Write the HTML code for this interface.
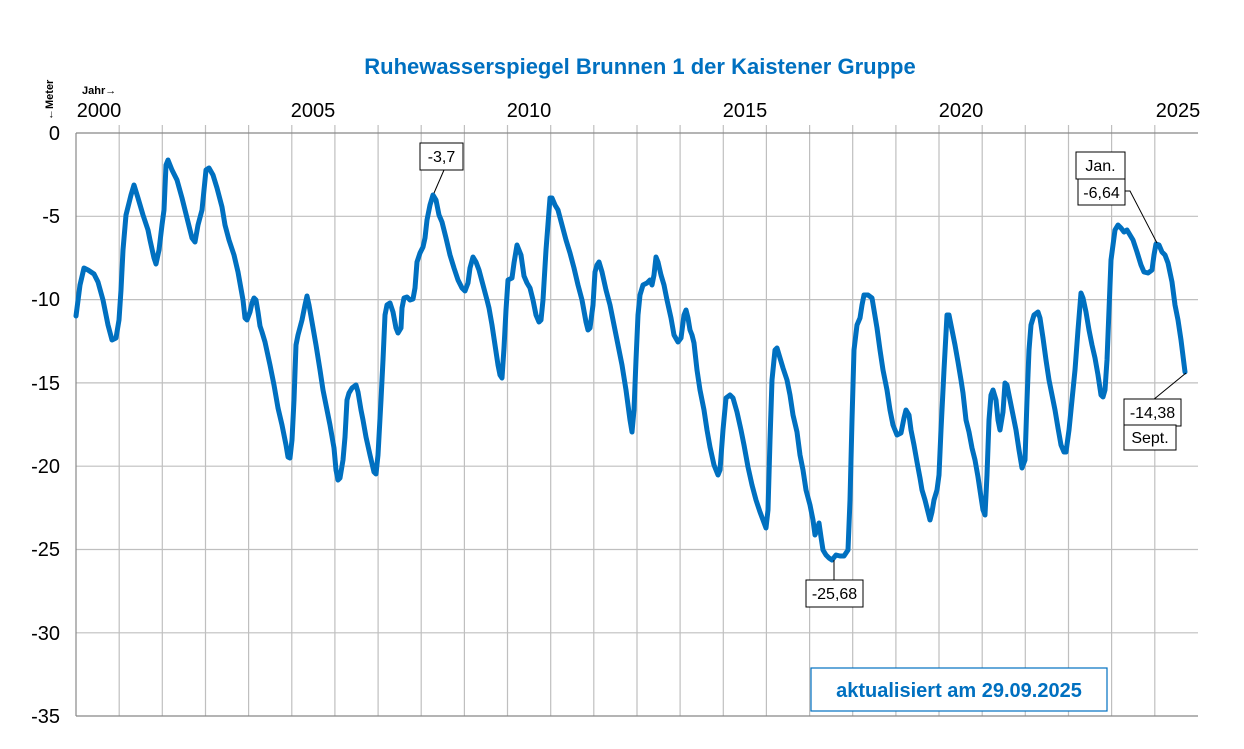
<!DOCTYPE html>
<html><head><meta charset="utf-8"><style>
body{margin:0;background:#fff;}
svg{display:block;font-family:"Liberation Sans",sans-serif;}
</style></head><body>
<svg width="1244" height="749" viewBox="0 0 1244 749">
<rect width="1244" height="749" fill="#fff"/>
<text x="640" y="74" text-anchor="middle" font-size="22" font-weight="bold" fill="#0070C0">Ruhewasserspiegel Brunnen 1 der Kaistener Gruppe</text>
<g stroke="#bfbfbf" stroke-width="1.2">
<line x1="76" y1="216.3" x2="1198" y2="216.3"/><line x1="76" y1="299.6" x2="1198" y2="299.6"/><line x1="76" y1="382.9" x2="1198" y2="382.9"/><line x1="76" y1="466.2" x2="1198" y2="466.2"/><line x1="76" y1="549.5" x2="1198" y2="549.5"/><line x1="76" y1="632.8" x2="1198" y2="632.8"/>
<line x1="119.2" y1="125" x2="119.2" y2="716"/><line x1="162.3" y1="125" x2="162.3" y2="716"/><line x1="205.5" y1="125" x2="205.5" y2="716"/><line x1="248.6" y1="125" x2="248.6" y2="716"/><line x1="291.8" y1="125" x2="291.8" y2="716"/><line x1="334.9" y1="125" x2="334.9" y2="716"/><line x1="378.1" y1="125" x2="378.1" y2="716"/><line x1="421.2" y1="125" x2="421.2" y2="716"/><line x1="464.4" y1="125" x2="464.4" y2="716"/><line x1="507.5" y1="125" x2="507.5" y2="716"/><line x1="550.7" y1="125" x2="550.7" y2="716"/><line x1="593.8" y1="125" x2="593.8" y2="716"/><line x1="637" y1="125" x2="637" y2="716"/><line x1="680.1" y1="125" x2="680.1" y2="716"/><line x1="723.3" y1="125" x2="723.3" y2="716"/><line x1="766.4" y1="125" x2="766.4" y2="716"/><line x1="809.6" y1="125" x2="809.6" y2="716"/><line x1="852.7" y1="125" x2="852.7" y2="716"/><line x1="895.9" y1="125" x2="895.9" y2="716"/><line x1="939" y1="125" x2="939" y2="716"/><line x1="982.2" y1="125" x2="982.2" y2="716"/><line x1="1025.3" y1="125" x2="1025.3" y2="716"/><line x1="1068.5" y1="125" x2="1068.5" y2="716"/><line x1="1111.6" y1="125" x2="1111.6" y2="716"/><line x1="1154.8" y1="125" x2="1154.8" y2="716"/>
</g>
<g stroke="#888" stroke-width="1.2">
<line x1="76" y1="133" x2="1198" y2="133"/><line x1="76" y1="133" x2="76" y2="716"/><line x1="76" y1="716" x2="1198" y2="716"/>
</g>
<g stroke="#888" stroke-width="1.2" id="ticks"></g>
<g font-size="20" fill="#000" text-anchor="end">
<text x="60" y="140">0</text><text x="60" y="223">-5</text><text x="60" y="306">-10</text><text x="60" y="390">-15</text><text x="60" y="473">-20</text><text x="60" y="556">-25</text><text x="60" y="640">-30</text><text x="60" y="723">-35</text>
</g>
<g font-size="20" fill="#000" text-anchor="middle">
<text x="99" y="117">2000</text><text x="313" y="117">2005</text><text x="529" y="117">2010</text><text x="745" y="117">2015</text><text x="961" y="117">2020</text><text x="1178" y="117">2025</text>
</g>
<text x="82" y="94" font-size="11" font-weight="bold">Jahr→</text>
<text transform="translate(53,120) rotate(-90)" font-size="11" font-weight="bold">←Meter</text>
<polyline fill="none" stroke="#0070C0" stroke-width="5" stroke-linejoin="round" stroke-linecap="round" points="76,316 80,285 84,268 88,270 94,274 98,282 103,300 108,325 112,340 116,338 119,320 121,290 123,250 126,215 131,195 134,185 138,198 143,215 148,230 150,240 154,258 156,264 159,250 162,225 164,210 166,165 168,160 172,170 177,180 182,198 188,222 192,238 195,242 198,225 202,210 204,190 206,170 209,168 213,175 217,188 222,207 225,225 229,240 234,255 238,272 243,300 245,318 247,320 250,312 252,303 254,298 256,300 258,312 260,326 262,332 265,342 270,365 274,385 278,408 282,425 286,445 288,457 290,458 292,440 294,400 296,345 298,335 302,320 305,305 307,296 309,305 312,322 316,345 320,370 323,390 327,410 330,425 334,448 336,470 338,480 340,478 343,460 345,437 347,400 349,393 352,388 356,385 358,392 361,410 363,420 366,437 370,455 374,472 376,474 378,455 381,400 383,360 385,315 387,305 390,303 393,312 396,328 398,333 401,328 402,308 404,298 407,297 410,300 413,299 415,288 417,262 420,253 423,247 425,238 427,220 430,205 433,195 436,200 439,215 442,222 446,238 450,255 454,268 458,280 462,288 465,291 468,283 470,268 473,257 476,262 479,270 483,285 487,300 489,308 492,325 495,345 498,365 500,375 502,378 504,348 506,310 508,280 512,278 514,263 517,245 519,250 521,255 524,276 527,283 530,288 533,300 536,315 539,322 541,320 543,300 546,250 550,198 552,198 555,205 558,210 562,225 566,240 570,253 574,268 578,285 582,300 586,322 588,330 590,328 593,305 595,272 597,265 599,262 602,272 606,290 610,305 614,325 618,345 622,365 626,390 630,420 632,432 634,410 636,360 638,315 640,295 643,285 647,283 650,280 652,285 654,275 656,257 658,262 661,275 664,285 667,300 671,318 674,335 678,342 681,338 684,315 686,310 688,318 690,330 692,335 694,343 697,370 700,390 704,410 707,430 710,447 714,465 718,475 720,470 723,430 726,398 730,395 733,398 737,412 741,430 744,445 748,467 752,485 756,500 760,512 763,520 766,528 768,510 770,440 772,380 775,350 777,348 780,358 783,368 787,380 790,395 793,415 797,432 800,455 803,470 806,490 810,505 813,520 815,535 817,530 819,523 821,537 823,550 826,555 829,558 832,560 836,555 840,556 844,556 848,550 850,500 852,420 854,350 857,325 860,318 862,305 864,295 868,295 872,298 874,310 877,328 880,350 883,370 887,390 890,410 893,425 897,435 901,433 904,418 906,410 909,415 911,430 914,445 917,462 920,478 922,490 925,500 928,512 930,520 932,512 934,500 937,490 939,475 941,430 944,370 947,315 949,315 952,330 955,345 958,362 961,380 963,393 966,420 969,432 972,448 975,460 978,477 981,497 983,510 985,515 987,475 989,420 991,395 993,390 996,400 998,420 1000,430 1003,412 1005,383 1007,385 1010,400 1013,415 1016,430 1019,450 1022,468 1025,460 1027,400 1029,350 1031,325 1034,315 1038,312 1040,318 1043,338 1046,360 1049,380 1052,395 1055,410 1058,428 1061,445 1064,452 1066,452 1069,430 1072,400 1075,370 1078,330 1081,293 1083,298 1086,312 1089,330 1092,345 1095,358 1098,375 1101,395 1103,397 1105,390 1107,360 1109,310 1111,260 1115,230 1118,225 1121,228 1124,232 1127,230 1130,235 1133,240 1137,252 1141,265 1144,272 1148,273 1152,270 1154,255 1156,244 1159,245 1162,252 1165,255 1168,263 1172,282 1175,305 1178,320 1181,340 1185,372"/>
<g stroke="#000" stroke-width="1" fill="none">
<line x1="444" y1="170" x2="434" y2="193"/>
<polyline points="1125,191 1130,191 1157,243"/>
<line x1="1153" y1="400" x2="1186" y2="373"/>
<line x1="834" y1="560" x2="834" y2="580"/>
</g>
<g fill="#fff" stroke="#000" stroke-width="1">
<rect x="420" y="143" width="43" height="27"/>
<rect x="1076" y="152" width="49" height="27"/>
<rect x="1078" y="179" width="47" height="26"/>
<rect x="1124" y="399" width="57" height="27"/>
<rect x="1124" y="425" width="52" height="25"/>
<rect x="806" y="580" width="57" height="27"/>
</g>
<g font-size="16" fill="#000" text-anchor="middle">
<text x="441.5" y="162">-3,7</text>
<text x="1100.5" y="171">Jan.</text>
<text x="1101.5" y="198">-6,64</text>
<text x="1152.5" y="418">-14,38</text>
<text x="1150" y="443">Sept.</text>
<text x="834.5" y="599">-25,68</text>
</g>
<rect x="811" y="668" width="296" height="43" fill="#fff" stroke="#0070C0" stroke-width="1.2"/>
<text x="959" y="697" text-anchor="middle" font-size="20" font-weight="bold" fill="#0070C0">aktualisiert am 29.09.2025</text>
<script>
var g=document.getElementById('ticks'),s='';
for(var i=0;i<=35;i++){var y=133+i*16.657;s+='<line x1="70" y1="'+y+'" x2="76" y2="'+y+'"/>';}
for(var k=0;k<=26;k++){var x=76+k*43.15;s+='<line x1="'+x+'" y1="125" x2="'+x+'" y2="133"/>';}
g.innerHTML=s;
</script>
</svg>
</body></html>
